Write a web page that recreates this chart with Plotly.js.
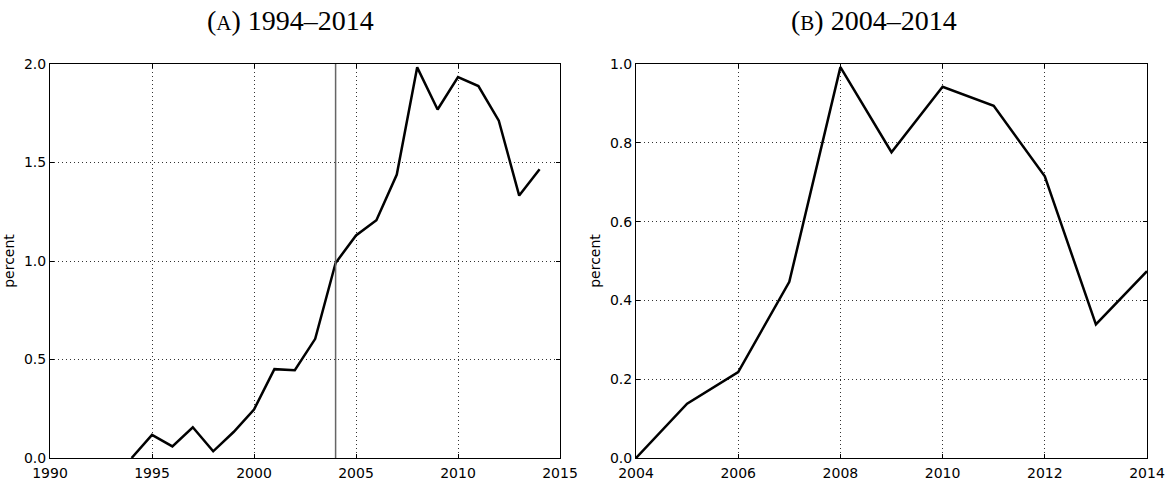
<!DOCTYPE html>
<html>
<head>
<meta charset="utf-8">
<script src="https://cdn.plot.ly/plotly-3.0.1.min.js"></script>
<style>html,body{margin:0;padding:0;background:#fff;}#chart{width:1169px;height:480px;}</style>
</head>
<body>
<div id="chart"></div>
<script>
const yearsA = [1994,1995,1996,1997,1998,1999,2000,2001,2002,2003,2004,2005,2006,2007,2008,2009,2010,2011,2012,2013,2014];
const valuesA = [0, 0.117, 0.059, 0.156, 0.034, 0.132, 0.246, 0.451, 0.446, 0.605, 0.99, 1.13, 1.207, 1.439, 1.983, 1.769, 1.934, 1.888, 1.712, 1.332, 1.466];
const yearsB = [2004,2005,2006,2007,2008,2009,2010,2011,2012,2013,2014];
const valuesB = [0, 0.138, 0.218, 0.447, 0.992, 0.776, 0.942, 0.894, 0.715, 0.339, 0.474];
const markerYear = 2004;
const titleA = '(<span style="font-size:21px">A</span>) 1994–2014';
const titleB = '(<span style="font-size:21px">B</span>) 2004–2014';
const yLabel = 'percent';

const tickFont = {family: 'DejaVu Sans', size: 14, color: '#000'};
function axisBase(extra) {
  return Object.assign({
    showline: true, linecolor: '#000', linewidth: 1, mirror: 'allticks',
    ticks: 'inside', ticklen: 4, tickwidth: 1, tickcolor: '#000',
    showgrid: true, gridcolor: '#333', griddash: '1px,3px', gridwidth: 1,
    zeroline: false, tickfont: tickFont, fixedrange: true
  }, extra);
}

const traces = [
  {x: yearsA, y: valuesA, xaxis: 'x', yaxis: 'y', mode: 'lines', line: {color: '#000', width: 2.5}, hoverinfo: 'skip'},
  {x: yearsB, y: valuesB, xaxis: 'x2', yaxis: 'y2', mode: 'lines', line: {color: '#000', width: 2.5}, hoverinfo: 'skip'}
];

const layout = {
  width: 1169, height: 480,
  margin: {l: 0, r: 0, t: 0, b: 0},
  paper_bgcolor: '#fff', plot_bgcolor: '#fff',
  showlegend: false,
  xaxis: axisBase({domain: [50/1169, 560/1169], range: [1990, 2015], dtick: 5, tick0: 1990, anchor: 'y', ticklabelstandoff: 2}),
  yaxis: axisBase({domain: [22/480, 416/480], range: [0, 2], dtick: 0.5, tickformat: '.1f', anchor: 'x', ticklabelstandoff: 0,
    title: {text: yLabel, font: {family: 'DejaVu Sans', size: 14, color: '#000'}, standoff: 6}}),
  xaxis2: axisBase({domain: [636/1169, 1147/1169], range: [2004, 2014], dtick: 2, tick0: 2004, anchor: 'y2', ticklabelstandoff: 2}),
  yaxis2: axisBase({domain: [22/480, 416/480], range: [0, 1], dtick: 0.2, tickformat: '.1f', anchor: 'x2', ticklabelstandoff: 0,
    title: {text: yLabel, font: {family: 'DejaVu Sans', size: 14, color: '#000'}, standoff: 6}}),
  shapes: [
    {type: 'line', xref: 'x', yref: 'y domain', x0: markerYear, x1: markerYear, y0: 0, y1: 1,
     line: {color: '#666', width: 1.5}, layer: 'above'}
  ],
  annotations: [
    {text: titleA, xref: 'paper', yref: 'paper', x: 290/1169, y: 1 - 21/480, xanchor: 'center', yanchor: 'middle',
     showarrow: false, font: {family: 'Liberation Serif', size: 28, color: '#000'}},
    {text: titleB, xref: 'paper', yref: 'paper', x: 874/1169, y: 1 - 21/480, xanchor: 'center', yanchor: 'middle',
     showarrow: false, font: {family: 'Liberation Serif', size: 28, color: '#000'}}
  ]
};

Plotly.newPlot('chart', traces, layout, {staticPlot: true, displayModeBar: false});
</script>
</body>
</html>
